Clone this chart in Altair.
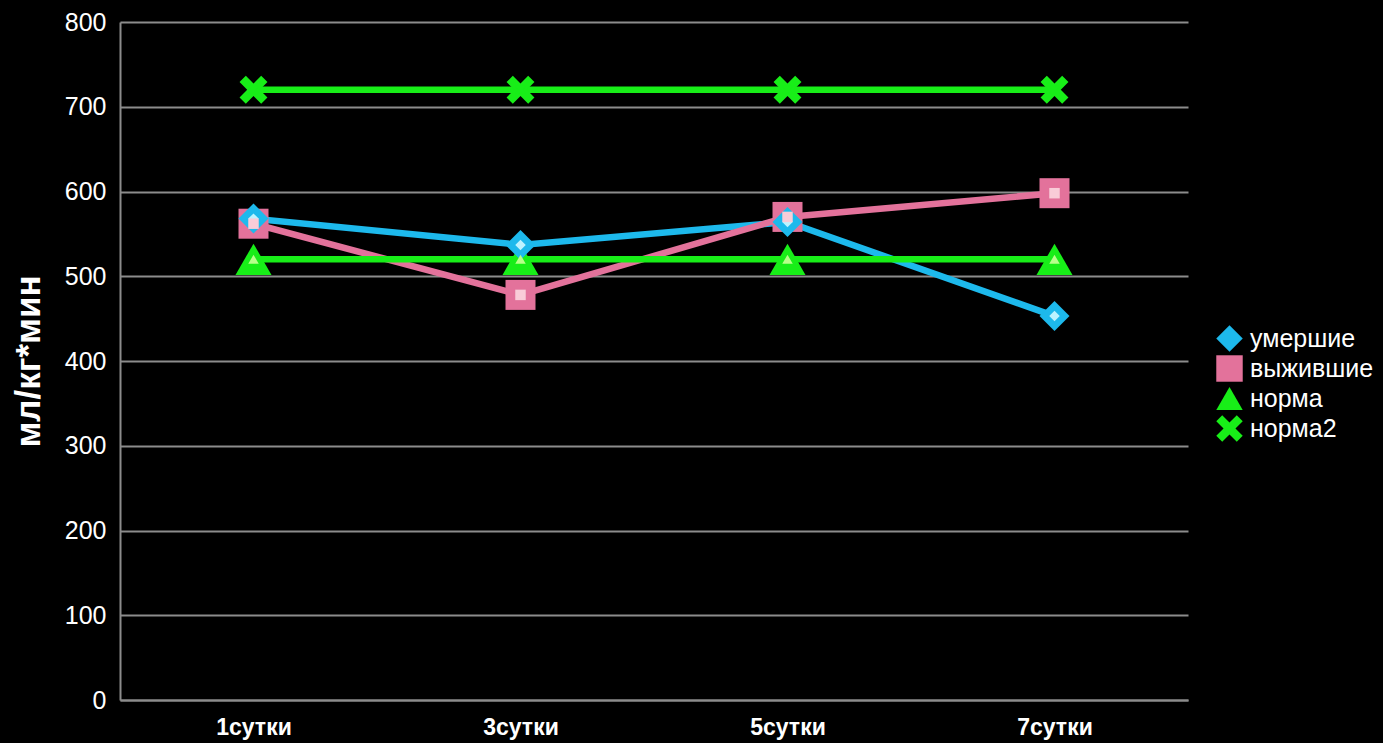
import altair as alt
import pandas as pd

# Days of observation and series values (ml/kg*min)
days = ["1сутки", "3сутки", "5сутки", "7сутки"]
series_names = ["умершие", "выжившие", "норма", "норма2"]
died = [568, 537, 564, 453]
survived = [562, 478, 570, 598]
norm = [520, 520, 520, 520]
norm2 = [720, 720, 720, 720]

line_colors = ["#1DB9EC", "#E3729B", "#18EE18", "#18EE18"]
inner_colors = ["#BDF3FF", "#F9CCD8", "#B8FF8A", "#18EE18"]
# An X-shaped path for the second norm
x_path = ("M-1,-0.55L-0.55,-1L0,-0.45L0.55,-1L1,-0.55L0.45,0L1,0.55"
          "L0.55,1L0,0.45L-0.55,1L-1,0.55L-0.45,0Z")
shapes = ["diamond", "square", "triangle-up", x_path]

rows = []
for name, vals in zip(series_names, [died, survived, norm, norm2]):
    for d, v in zip(days, vals):
        rows.append({"day": d, "series": name, "value": v})
df = pd.DataFrame(rows)

font = "Liberation Sans"

x_enc = alt.X("day:N", sort=days,
              scale=alt.Scale(type="point", padding=0.5),
              axis=alt.Axis(title=None, labelAngle=0, labelFontSize=23,
                            labelFontWeight="bold", labelColor="#FFFFFF",
                            labelFont=font, labelPadding=16, ticks=False,
                            domainColor="#8C8C8C", domainWidth=2, grid=False))
y_enc = alt.Y("value:Q",
              scale=alt.Scale(domain=[0, 800], nice=False),
              axis=alt.Axis(title="мл/кг*мин", values=list(range(0, 801, 100)),
                            titleFontSize=35, titleFontWeight="bold",
                            titleColor="#FFFFFF", titleFont=font,
                            titlePadding=18,
                            labelFontSize=25, labelColor="#FFFFFF",
                            labelFont=font, labelPadding=14, ticks=False,
                            domainColor="#8C8C8C", domainWidth=2,
                            gridColor="#8C8C8C", gridWidth=2))

color_scale = alt.Scale(domain=series_names, range=line_colors)
shape_scale = alt.Scale(domain=series_names, range=shapes)
inner_scale = alt.Scale(domain=series_names, range=inner_colors)

# Triangles are drawn a little larger, crosses a little smaller
marker_size = (
    alt.when(alt.datum.series == "норма").then(alt.value(1300))
    .when(alt.datum.series == "норма2").then(alt.value(780))
    .otherwise(alt.value(900))
)

base = alt.Chart(df)

lines = base.mark_line(strokeWidth=6.5).encode(
    x=x_enc, y=y_enc,
    color=alt.Color("series:N", scale=color_scale, sort=series_names, legend=None),
    detail="series:N",
)

points = base.mark_point(filled=True, opacity=1).encode(
    x=x_enc, y=y_enc,
    color=alt.Color("series:N", scale=color_scale, sort=series_names,
                    legend=alt.Legend(title=None, orient="none",
                                      legendX=1096, legendY=303,
                                      labelFontSize=25, labelColor="#FFFFFF",
                                      labelFont=font, symbolSize=700,
                                      symbolStrokeWidth=0, rowPadding=3,
                                      labelOffset=7, symbolOpacity=1,
                                      labelLimit=300)),
    shape=alt.Shape("series:N", scale=shape_scale, sort=series_names),
    size=marker_size,
    order=alt.Order("series:N"),
)

inner = base.mark_point(filled=True, size=110, opacity=1).encode(
    x=x_enc, y=y_enc,
    color=alt.Color("series:N", scale=inner_scale, sort=series_names, legend=None),
    shape=alt.Shape("series:N", scale=shape_scale, sort=series_names, legend=None),
)

chart = alt.layer(lines, points, inner).resolve_scale(
    color="independent", shape="independent"
).properties(
    width=1068, height=678,
    background="#000000",
    padding={"left": 120, "top": 22, "right": 195, "bottom": 43},
    autosize=alt.AutoSizeParams(type="none"),
).configure_view(stroke=None)

chart.save("out.html", embed_options={"renderer": "svg", "actions": False})
